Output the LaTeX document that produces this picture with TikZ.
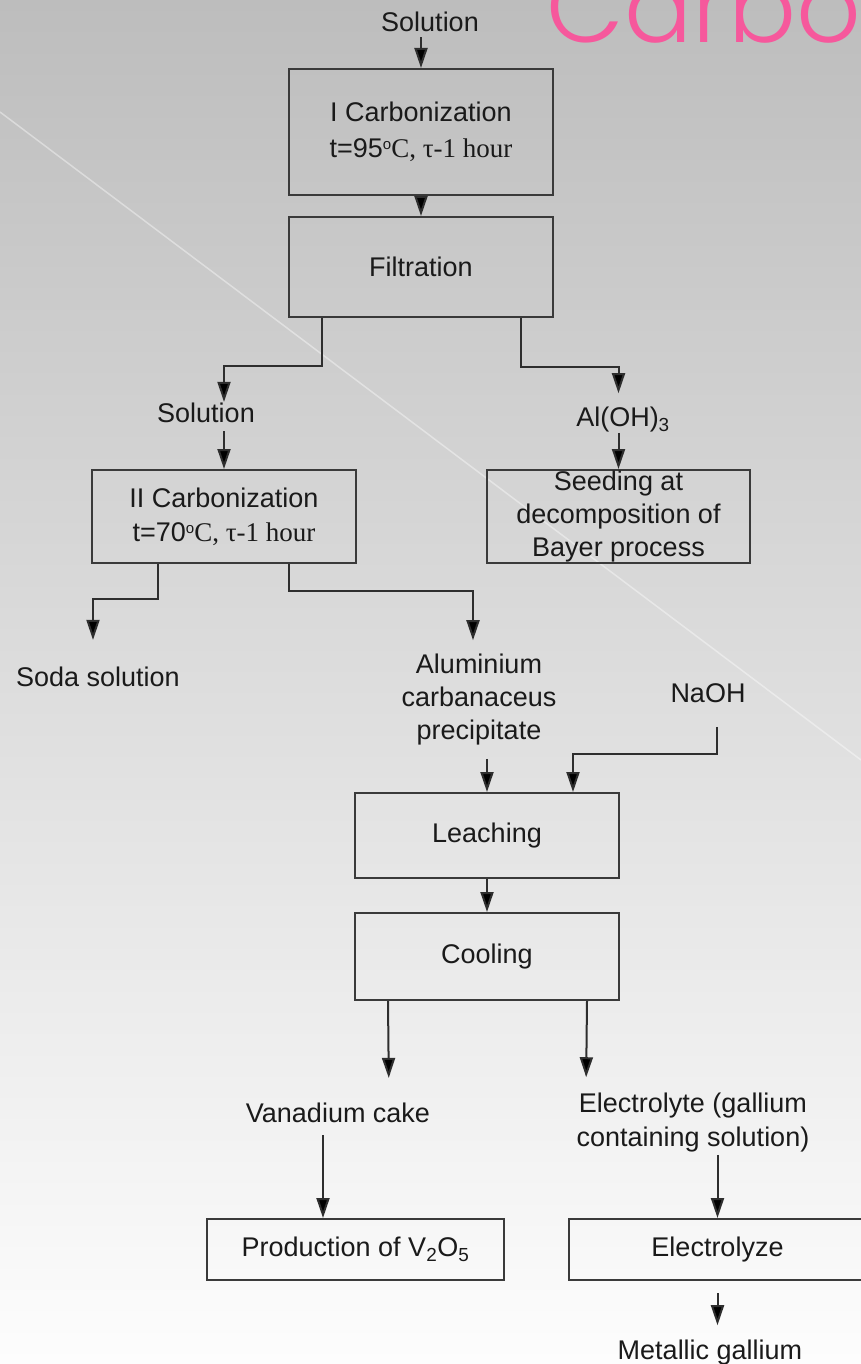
\documentclass[tikz,border=0pt]{standalone}
\usepackage{fontspec}
\setmainfont{Liberation Sans}
\newfontfamily\serifTNR{Liberation Serif}
\newfontfamily\titlefont{Poppins}[UprightFont=* Light]
\usetikzlibrary{arrows.meta,calc}
\definecolor{ink}{HTML}{1A1A1A}
\definecolor{boxline}{HTML}{3A3A3A}
\definecolor{conn}{HTML}{2E2E2E}
\definecolor{pinkT}{RGB}{246,88,156}
\definecolor{pinkE}{RGB}{190,40,105}
\definecolor{bgtop}{HTML}{BDBDBD}
\definecolor{bgmid}{HTML}{E0E0E0}
\definecolor{bgbot}{HTML}{FDFDFD}
\newcommand{\dego}{\raisebox{8pt}{\fontsize{15}{15}\selectfont o}}
\begin{document}
\begin{tikzpicture}[x=1pt,y=-1pt,
  lbl/.style={font=\fontsize{27}{33}\selectfont, text=ink, inner sep=0pt, align=center},
  pbox/.style={draw=boxline, line width=2pt, font=\fontsize{27}{34}\selectfont, text=ink,
    align=center, inner sep=0pt, minimum width=264pt},
  arr/.style={draw=conn, line width=2pt, -{Triangle[width=13pt,length=20pt,fill=black]}}]
\useasboundingbox (0,0) rectangle (861,1364);
% background
\shade[top color=bgtop, middle color=bgmid, bottom color=bgbot] (0,0) rectangle (861,1364);
\draw[white, opacity=0.4, line width=1.5pt] (0,112) -- (861,760);
% title fragment
\node[anchor=base west, inner sep=0pt, font=\titlefont\fontsize{101}{101}\selectfont, text=pinkT] (title) at (546,43) {Carbo};
% nodes
\node[lbl] (sol1) at (430,22) {Solution};
\node[pbox, minimum height=126pt, font=\fontsize{27}{36}\selectfont] (c1) at (421,132)
  {I Carbonization\\t=95\dego{\serifTNR C, τ-1 hour}};
\node[pbox, minimum height=100pt] (filt) at (421,267) {Filtration};
\node[lbl] (sol2) at (206,413) {Solution};
\node[lbl] (aloh) at (623,420) {Al(OH)\textsubscript{3}};
\node[pbox, minimum height=93pt] (c2) at (224,516.5)
  {II Carbonization\\t=70\dego{\serifTNR C, τ-1 hour}};
\node[pbox, minimum height=93pt, minimum width=263pt, font=\fontsize{27}{33}\selectfont] (seed) at (618.5,516.5)
  {Seeding at\\decomposition of\\Bayer process};
\node[lbl] (soda) at (98,677) {Soda solution};
\node[lbl] (alu) at (479,700) {Aluminium\\carbanaceus\\precipitate};
\node[lbl] (naoh) at (708,693) {NaOH};
\node[pbox, minimum height=85pt] (leach) at (487,835.5) {Leaching};
\node[pbox, minimum height=87pt] (cool) at (487,956.5) {Cooling};
\node[lbl] (vana) at (338,1113) {Vanadium cake};
\node[lbl, font=\fontsize{27}{34}\selectfont] (elyte) at (693,1123) {Electrolyte (gallium\\containing solution)};
\node[pbox, minimum width=297pt, minimum height=61pt] (prod) at (355.5,1249.5) {Production of V\textsubscript{2}O\textsubscript{5}};
\node[pbox, minimum width=297pt, minimum height=61pt] (elz) at (717.5,1249.5) {Electrolyze};
\node[lbl] (metal) at (710,1353) {Metallic gallium};
% connectors
\draw[arr, shorten <=5pt] (c1.north |- sol1.south) -- (c1.north);
\draw[arr] (c1.south) -- (filt.north);
\draw[arr, shorten >=1pt] ($(filt.south west)+(34,0)$) -- ++(0,48) -| (c2.north |- sol2.north);
\draw[arr, shorten >=14pt] ($(filt.south east)+(-33,0)$) -- ++(0,49) -| (seed.north |- aloh.north);
\draw[arr, shorten <=8pt] (c2.north |- sol2.south) -- (c2.north);
\draw[arr] (seed.north |- aloh.south) -- (seed.north);
\draw[arr, shorten >=27pt] ($(c2.south west)+(67,0)$) -- ++(0,35) -| ($(soda.north)+(-5,0)$);
\draw[arr, shorten >=14pt] ($(c2.south west)+(198,0)$) -- ++(0,27) -| ($(alu.north)+(-6,0)$);
\draw[arr, shorten <=13pt] (leach.north |- alu.south) -- (leach.north);
\draw[arr, shorten <=24pt] ($(naoh.south)+(9,0)$) -- ++(0,51) -| ($(leach.north)+(86,0)$);
\draw[arr] (leach.south) -- (cool.north);
\draw[arr, shorten >=25pt] ($(cool.south west)+(34,0)$) -- ($(vana.north)+(51,0)$);
\draw[arr, shorten >=16pt] ($(cool.south east)+(-33,0)$) -- ($(elyte.north)+(-107,0)$);
\draw[arr, shorten <=12pt] ($(vana.south)+(-15,0)$) -- ($(prod.north)+(-32.5,0)$);
\draw[arr, shorten <=2pt] (elz.north |- elyte.south) -- (elz.north);
\draw[arr, shorten <=12pt, shorten >=15pt] (elz.south) -- (elz.south |- metal.north);
\end{tikzpicture}
\end{document}
